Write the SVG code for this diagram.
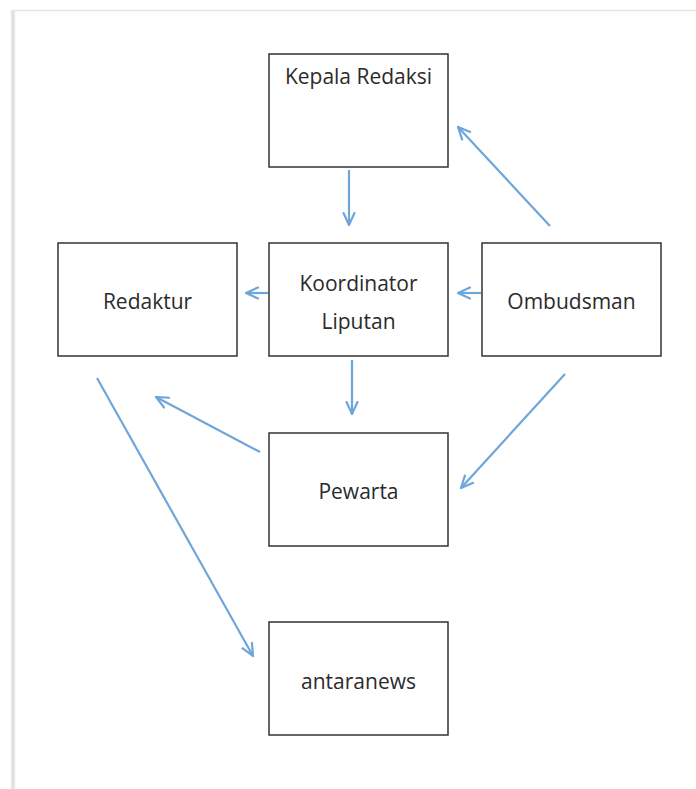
<svg xmlns="http://www.w3.org/2000/svg" width="696" height="789" viewBox="0 0 696 789">
<defs>
<style>
.box{fill:#fff;stroke:#333;stroke-width:1.5}
.lbl{font-family:"Open Sans","Liberation Sans",sans-serif;font-size:21px;fill:#2b2b2b;text-anchor:middle}
.con{stroke:#6fa6da;stroke-width:2.2;fill:none;marker-end:url(#ah)}
</style>
<marker id="ah" viewBox="0 0 14 14" refX="13" refY="7" markerWidth="14" markerHeight="14" markerUnits="userSpaceOnUse" orient="auto">
<path d="M1,1.5 L13,7 L1,12.5" fill="none" stroke="#6fa6da" stroke-width="2.2" stroke-linecap="round"/>
</marker>
<linearGradient id="sh" x1="0" x2="1" y1="0" y2="0">
<stop offset="0" stop-color="#fff"/><stop offset="0.5" stop-color="#d8d8d8"/><stop offset="1" stop-color="#fff"/>
</linearGradient>
</defs>
<rect width="696" height="789" fill="#fff"/>
<g id="page">
<rect x="10" y="10" width="6" height="779" fill="url(#sh)"/>
<line x1="13" y1="10.5" x2="696" y2="10.5" stroke="#e4e4e4" stroke-width="1.5"/>
</g>
<g id="connectors">
<line class="con" x1="349" y1="170" x2="349" y2="225"/>
<line class="con" x1="550" y1="226" x2="458" y2="127"/>
<line class="con" x1="268" y1="293" x2="246" y2="293"/>
<line class="con" x1="481" y1="293" x2="458" y2="293"/>
<line class="con" x1="352" y1="360" x2="352" y2="414"/>
<line class="con" x1="260" y1="452" x2="156" y2="397"/>
<line class="con" x1="565" y1="374" x2="461" y2="488"/>
<line class="con" x1="97" y1="378" x2="253" y2="656"/>
</g>
<g id="kepala"><rect class="box" x="269" y="54" width="179" height="113"/><text class="lbl" x="358.5" y="84">Kepala Redaksi</text></g>
<g id="redaktur"><rect class="box" x="58" y="243" width="179" height="113"/><text class="lbl" x="147.5" y="309">Redaktur</text></g>
<g id="koordinator"><rect class="box" x="269" y="243" width="179" height="113"/><text class="lbl" x="358.5" y="291">Koordinator</text><text class="lbl" x="358.5" y="329">Liputan</text></g>
<g id="ombudsman"><rect class="box" x="482" y="243" width="179" height="113"/><text class="lbl" x="571.5" y="309">Ombudsman</text></g>
<g id="pewarta"><rect class="box" x="269" y="433" width="179" height="113"/><text class="lbl" x="358.5" y="499">Pewarta</text></g>
<g id="antaranews"><rect class="box" x="269" y="622" width="179" height="113"/><text class="lbl" x="358.5" y="689">antaranews</text></g>
</svg>
